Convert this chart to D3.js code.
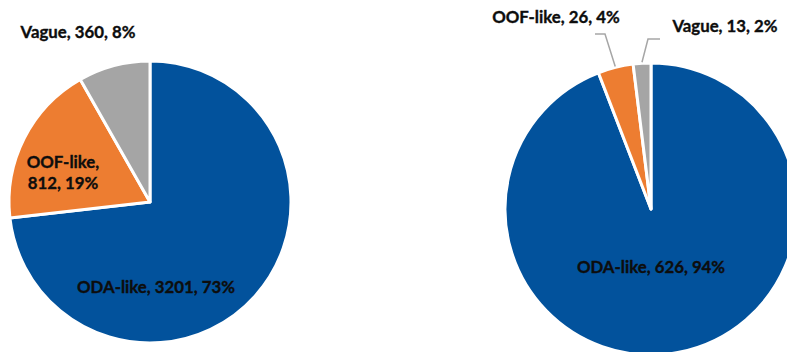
<!DOCTYPE html>
<html>
<head>
<meta charset="utf-8">
<script src="https://cdn.jsdelivr.net/npm/d3@7"></script>
<style>
  html, body { margin: 0; padding: 0; background: #fff; }
  svg { display: block; }
  text { font-family: Lato, "Open Sans", sans-serif; font-weight: 700; font-size: 16.8px; fill: #0d0d0d; stroke: #0d0d0d; stroke-width: 0.35px; }
</style>
</head>
<body>
<svg id="chart" width="787" height="352"></svg>
<script>
// Categories and values for the two pies
const categories = ["ODA-like", "OOF-like", "Vague"];
const leftValues = [3201, 812, 360];
const rightValues = [626, 26, 13];
const colors = ["#02529C", "#ED7D31", "#A5A5A5"];

const svg = d3.select("#chart");
const color = d3.scaleOrdinal().domain(categories).range(colors);

const pie = d3.pie().sort(null).value(d => d.value);

function toData(values) {
  const total = d3.sum(values);
  return categories.map((c, i) => ({
    name: c, value: values[i], pct: Math.round(values[i] / total * 100)
  }));
}

function drawPie(values, cx, cy, r, labels) {
  const g = svg.append("g").attr("transform", `translate(${cx},${cy})`);
  const arcs = pie(toData(values));
  const arc = d3.arc().innerRadius(0).outerRadius(r);
  g.selectAll("path.slice").data(arcs).join("path")
    .attr("class", "slice")
    .attr("d", arc)
    .attr("fill", d => color(d.data.name))
    .attr("stroke", "#fff")
    .attr("stroke-width", 3)
    .attr("stroke-linejoin", "round");

  arcs.forEach((a, i) => {
    const L = labels[i];
    const t = g.append("text")
      .attr("text-anchor", "middle")
      .attr("x", L.x - cx)
      .attr("y", L.y - cy);
    const lines = L.wrap
      ? [`${a.data.name},`, `${a.data.value}, ${a.data.pct}%`]
      : [`${a.data.name}, ${a.data.value}, ${a.data.pct}%`];
    lines.forEach((s, j) => t.append("tspan").attr("x", L.x - cx).attr("dy", j === 0 ? 0 : 21).text(s));

    if (L.leader) {
      // leader line: from slice edge (mid-angle) to an elbow, then horizontally
      const mid = (a.startAngle + a.endAngle) / 2;
      const p0 = [Math.sin(mid) * (r + 1), -Math.cos(mid) * (r + 1)];
      const p1 = [L.leader[0] - cx, L.leader[1] - cy];
      const p2 = [L.leader[2] - cx, L.leader[1] - cy];
      g.append("path")
        .attr("d", d3.line()([p0, p1, p2]))
        .attr("fill", "none")
        .attr("stroke", "#A6A6A6")
        .attr("stroke-width", 1.5);
    }
  });
}

drawPie(leftValues, 150, 202, 141, [
  { x: 156, y: 293 },
  { x: 63, y: 168, wrap: true },
  { x: 78, y: 38 }
]);

drawPie(rightValues, 651, 209, 146, [
  { x: 651, y: 273 },
  { x: 556, y: 23, leader: [605, 34, 595] },
  { x: 725, y: 32, leader: [648, 39, 660] }
]);
</script>
</body>
</html>
